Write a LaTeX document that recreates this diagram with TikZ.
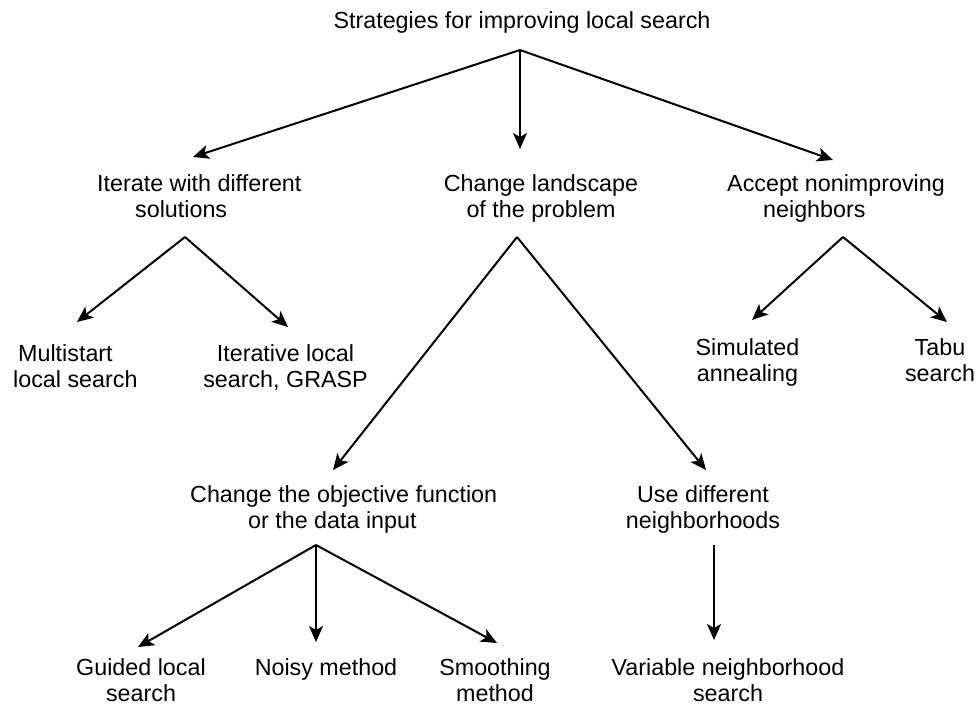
\documentclass[tikz,border=0pt]{standalone}
\usepackage{fontspec}
\setmainfont{Liberation Sans}
\usetikzlibrary{arrows.meta,calc}
\tikzset{
  lbl/.style={inner sep=0pt, font=\fontsize{23.3}{26}\selectfont},
  lblc/.style={lbl, align=center, anchor=base},
  lbll/.style={lbl, align=left, anchor=base west},
  arr/.style={line width=2pt, -{Stealth[length=16pt,width=14pt,inset=4pt]}}
}
\begin{document}
\begin{tikzpicture}[x=1pt,y=-1pt]
\useasboundingbox (0,0) rectangle (977,704);
% nodes (base = baseline of the last line)
\node[lblc] (root) at (522,28) {Strategies for improving local search};
\node[lbll] (iter) at (97,217) {Iterate with different\\\hspace*{38pt}solutions};
\node[lblc] (land) at (541,217) {Change landscape\\of the problem};
\node[lbll] (acc) at (727,217) {Accept nonimproving\\\hspace*{36pt}neighbors};
\node[lbll] (multi) at (13,387) {\hspace*{5pt}Multistart\\local search};
\node[lblc] (ils) at (285.5,387) {Iterative local\\search, GRASP};
\node[lblc] (sa) at (747.5,381) {Simulated\\annealing};
\node[lblc] (tabu) at (940,381) {Tabu\\search};
\node[lbll] (obj) at (190,528) {Change the objective function\\\hspace*{58pt}or the data input};
\node[lblc] (nbr) at (703,528) {Use different\\neighborhoods};
\node[lblc] (gls) at (141,701) {Guided local\\search};
\node[lblc] (noisy) at (326,675) {Noisy method};
\node[lblc] (smooth) at (495,701) {Smoothing\\method};
\node[lblc] (vns) at (728,701) {Variable neighborhood\\search};
% connectors
\draw[arr] ($(root.base)+(-2,22)$) -- ($(iter.base west)+(96,-60)$);
\draw[arr] ($(root.base)+(-2,22)$) -- ($(land.base)+(-21,-68)$);
\draw[arr] ($(root.base)+(-2,22)$) -- ($(acc.base west)+(106,-57)$);
\draw[arr] ($(iter.base west)+(88,20)$) -- ($(multi.base west)+(64,-65)$);
\draw[arr] ($(iter.base west)+(88,20)$) -- ($(ils.base)+(2.5,-60)$);
\draw[arr] ($(land.base)+(-24,20)$) -- ($(obj.base west)+(143,-58)$);
\draw[arr] ($(land.base)+(-24,20)$) -- ($(nbr.base)+(3,-58)$);
\draw[arr] ($(acc.base west)+(116,20)$) -- ($(sa.base)+(4.5,-61)$);
\draw[arr] ($(acc.base west)+(116,20)$) -- ($(tabu.base)+(7,-59)$);
\draw[arr] ($(obj.base west)+(126,17)$) -- ($(gls.base)+(-3,-54)$);
\draw[arr] ($(obj.base west)+(126,17)$) -- ($(noisy.base)+(-10,-33)$);
\draw[arr] ($(obj.base west)+(126,17)$) -- ($(smooth.base)+(2,-58)$);
\draw[arr] ($(nbr.base)+(11,17)$) -- ($(vns.base)+(-14,-61)$);
\end{tikzpicture}
\end{document}
